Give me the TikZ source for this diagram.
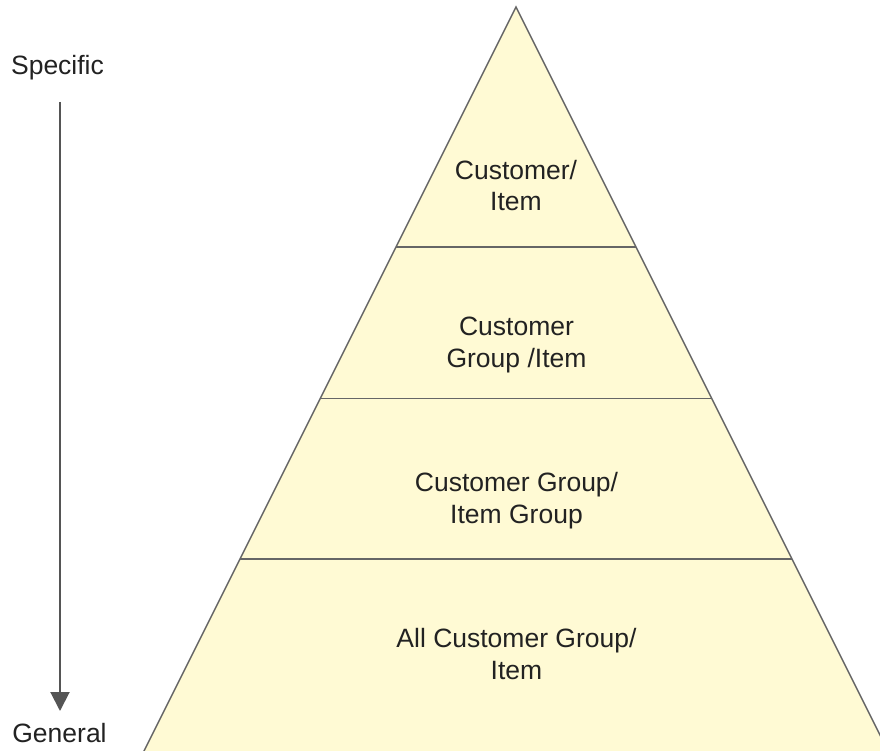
\documentclass[tikz,border=0pt]{standalone}
\usepackage{fontspec}
\setmainfont{Liberation Sans}
\usetikzlibrary{arrows.meta}
\definecolor{pyrfill}{HTML}{FFFAD4}
\definecolor{pyrline}{HTML}{666666}
\definecolor{arrowcol}{HTML}{555555}
\definecolor{txtcol}{HTML}{222222}
\tikzset{
  lbl/.style={align=center, anchor=base, inner sep=0pt, text=txtcol,
    font=\fontsize{26.5}{31.5}\selectfont},
  divider/.style={draw=pyrline, line width=1.5pt},
}
\begin{document}
\begin{tikzpicture}[x=1pt,y=-1pt]
\useasboundingbox (0,0) rectangle (880,751);
\begin{scope}
\clip (0,0) rectangle (880,751);
\coordinate (apex) at (516,7);
\coordinate (bl) at (142,755);
\coordinate (br) at (890,755);
\filldraw[fill=pyrfill, draw=pyrline, line width=1.5pt, line join=miter] (apex) -- (bl) -- (br) -- cycle;
\coordinate (d1l) at ({516-0.5*(247-7)},247);
\coordinate (d1r) at ({516+0.5*(247-7)},247);
\coordinate (d2l) at ({516-0.5*(398.5-7)},398.5);
\coordinate (d2r) at ({516+0.5*(398.5-7)},398.5);
\coordinate (d3l) at ({516-0.5*(559-7)},559);
\coordinate (d3r) at ({516+0.5*(559-7)},559);
\draw[divider] (d1l) -- (d1r);
\draw[divider] (d2l) -- (d2r);
\draw[divider] (d3l) -- (d3r);
\end{scope}
\node[lbl] (t1) at (516,211) {Customer/\\Item};
\node[lbl] (t2) at (516.5,367) {Customer\\Group /Item};
\node[lbl] (t3) at (516.5,523) {Customer Group/\\Item Group};
\node[lbl] (t4) at (516.5,679) {All Customer Group/\\Item};
\node[lbl] (spec) at (57.5,75) {Specific};
\node[lbl] (gen) at (59.5,742.5) {General};
\coordinate (astart) at (60,102);
\coordinate (aend) at (60,711);
\draw[draw=arrowcol, line width=2pt, -{Triangle[length=19pt,width=19pt]}] (astart) -- (aend);
\end{tikzpicture}
\end{document}
